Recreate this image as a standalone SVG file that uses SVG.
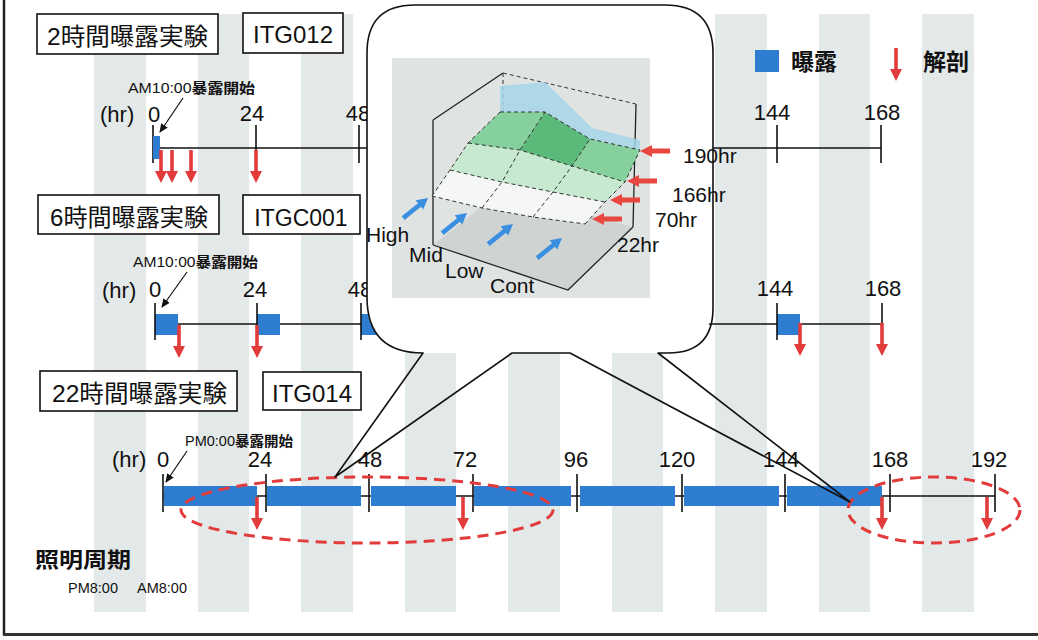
<svg xmlns="http://www.w3.org/2000/svg" width="1038" height="640" viewBox="0 0 1038 640">
<defs>
<style>
.t{font-family:"Liberation Sans","Noto Sans CJK JP",sans-serif;fill:#111}
.cj{font-family:"Liberation Sans","Noto Sans CJK JP",sans-serif;fill:#111}
.n{font-size:22px;text-anchor:middle}
.box{fill:#fff;stroke:#111;stroke-width:1.6}
.ln{stroke:#111;stroke-width:1.6;fill:none}
.bar{fill:#2f7dd1}
.stripe{fill:#e3e8e8}
.ell{fill:none;stroke:#e23b3b;stroke-width:3;stroke-dasharray:11 7}
.grid{stroke:#333;stroke-width:1;stroke-dasharray:4 3;fill:none}
.ax{stroke:#222;stroke-width:1.3;fill:none}
</style>
<path id="dn" d="M-1.8,0 H1.8 V21 H6 L0,33 L-6,21 H-1.8 Z" fill="#e23b3b"/>
<path id="la" d="M0,0 L12,-6 V-2.5 H30 V2.5 H12 V6 Z" fill="#e8473f"/>
<path id="ba" d="M0,0 L-11,-6 V-2.3 H-32 V2.3 H-11 V6 Z" fill="#3a8fe0"/>
<marker id="ah" markerWidth="9" markerHeight="8" refX="8" refY="4" orient="auto" markerUnits="userSpaceOnUse"><path d="M0,0 L9,4 L0,8 Z" fill="#111"/></marker>
</defs>

<g id="background">
<rect x="0" y="0" width="1038" height="640" fill="#fff"/>
<rect class="stripe" x="94" y="14" width="52" height="598"/>
<rect class="stripe" x="198" y="14" width="51" height="598"/>
<rect class="stripe" x="301" y="14" width="52" height="598"/>
<rect class="stripe" x="405" y="14" width="51" height="598"/>
<rect class="stripe" x="508" y="14" width="52" height="598"/>
<rect class="stripe" x="612" y="14" width="51" height="598"/>
<rect class="stripe" x="715" y="14" width="52" height="598"/>
<rect class="stripe" x="819" y="14" width="51" height="598"/>
<rect class="stripe" x="922" y="14" width="52" height="598"/>
<line x1="4" y1="0" x2="4" y2="635" stroke="#222" stroke-width="2.5"/>
<line x1="3" y1="634.5" x2="1038" y2="634.5" stroke="#333" stroke-width="3"/>
</g>

<g id="legend">
<rect class="bar" x="755" y="50" width="24" height="22"/>
<text class="cj" x="791" y="70" font-size="23" font-weight="bold">曝露</text>
<use href="#dn" x="896" y="48"/>
<text class="cj" x="923" y="70" font-size="23" font-weight="bold">解剖</text>
</g>

<g id="row-2h">
<rect class="box" x="37" y="14" width="181" height="40"/>
<text class="cj" x="47" y="45" font-size="24" textLength="161" lengthAdjust="spacingAndGlyphs">2時間曝露実験</text>
<rect class="box" x="243" y="13" width="100" height="40"/>
<text class="t" x="293" y="43" font-size="24" text-anchor="middle">ITG012</text>
<line class="ln" x1="153" y1="148" x2="881" y2="148"/>
<path class="ln" d="M153,125V163M256,125V163M359,125V163M463,125V163M567,125V163M671,125V163M777,125V163M881,125V163"/>
<rect class="bar" x="153" y="136" width="7" height="23"/>
<use href="#dn" x="161" y="150"/><use href="#dn" x="172" y="150"/><use href="#dn" x="191" y="150"/><use href="#dn" x="256" y="150"/>
<text class="t" x="100" y="122" font-size="22">(hr)</text>
<text class="t n" x="154" y="122">0</text>
<text class="t n" x="252" y="121">24</text>
<text class="t n" x="358" y="121">48</text>
<text class="t n" x="772" y="120">144</text>
<text class="t n" x="882" y="120">168</text>
<text class="cj" x="128" y="93" font-size="14" textLength="127" lengthAdjust="spacingAndGlyphs">AM10:00<tspan font-weight="bold">暴露開始</tspan></text>
<line x1="183" y1="98" x2="160" y2="132" stroke="#111" stroke-width="1.2" marker-end="url(#ah)"/>
</g>

<g id="row-6h">
<rect class="box" x="38" y="195" width="181" height="39"/>
<text class="cj" x="50" y="226" font-size="24" textLength="158" lengthAdjust="spacingAndGlyphs">6時間曝露実験</text>
<rect class="box" x="243" y="195" width="117" height="39"/>
<text class="t" x="301" y="226" font-size="23" text-anchor="middle">ITGC001</text>
<line class="ln" x1="155" y1="324" x2="882" y2="324"/>
<rect class="bar" x="155" y="314" width="23" height="21"/>
<rect class="bar" x="257" y="314" width="23" height="21"/>
<rect class="bar" x="361" y="314" width="23" height="21"/>
<rect class="bar" x="465" y="314" width="23" height="21"/>
<rect class="bar" x="569" y="314" width="23" height="21"/>
<rect class="bar" x="673" y="314" width="23" height="21"/>
<rect class="bar" x="777" y="314" width="23" height="21"/>
<path class="ln" d="M155,303V340M257,303V340M361,303V340M465,303V340M569,303V340M673,303V340M777,303V340M882,303V340"/>
<use href="#dn" x="179" y="325"/><use href="#dn" x="257" y="325"/><use href="#dn" x="800" y="323"/><use href="#dn" x="882" y="323"/>
<text class="t" x="102" y="298" font-size="22">(hr)</text>
<text class="t n" x="155" y="297">0</text>
<text class="t n" x="255" y="297">24</text>
<text class="t n" x="360" y="297">48</text>
<text class="t n" x="775" y="296">144</text>
<text class="t n" x="883" y="296">168</text>
<text class="cj" x="133" y="267" font-size="14" textLength="125" lengthAdjust="spacingAndGlyphs">AM10:00<tspan font-weight="bold">暴露開始</tspan></text>
<line x1="187" y1="272" x2="162" y2="307" stroke="#111" stroke-width="1.2" marker-end="url(#ah)"/>
</g>

<g id="row-22h">
<rect class="box" x="40" y="371" width="197" height="40"/>
<text class="cj" x="52" y="402" font-size="24" textLength="175" lengthAdjust="spacingAndGlyphs">22時間曝露実験</text>
<rect class="box" x="263" y="372" width="98" height="38"/>
<text class="t" x="312" y="402" font-size="24" text-anchor="middle">ITG014</text>
<line class="ln" x1="163" y1="496" x2="995" y2="496"/>
<rect class="bar" x="164" y="486" width="93" height="20"/>
<rect class="bar" x="267" y="486" width="94" height="20"/>
<rect class="bar" x="371" y="486" width="85" height="20"/>
<rect class="bar" x="474" y="486" width="97" height="20"/>
<rect class="bar" x="580" y="486" width="95" height="20"/>
<rect class="bar" x="684" y="486" width="95" height="20"/>
<rect class="bar" x="787" y="486" width="95" height="20"/>
<path class="ln" d="M163,474V512M266,474V512M369,474V512M473,474V512M577,474V512M682,474V512M785,474V512M890,474V512M995,474V512"/>
<use href="#dn" x="257" y="497"/><use href="#dn" x="463" y="497"/><use href="#dn" x="882" y="497"/><use href="#dn" x="987" y="497"/>
<text class="t" x="112" y="467" font-size="22">(hr)</text>
<text class="t n" x="163" y="467">0</text>
<text class="t n" x="260" y="467">24</text>
<text class="t n" x="370" y="467">48</text>
<text class="t n" x="465" y="467">72</text>
<text class="t n" x="576" y="467">96</text>
<text class="t n" x="677" y="467">120</text>
<text class="t n" x="781" y="467">144</text>
<text class="t n" x="890" y="467">168</text>
<text class="t n" x="989" y="467">192</text>
<text class="cj" x="185" y="446" font-size="14" textLength="108" lengthAdjust="spacingAndGlyphs">PM0:00<tspan font-weight="bold">暴露開始</tspan></text>
<line x1="187" y1="451" x2="166" y2="482" stroke="#111" stroke-width="1.2" marker-end="url(#ah)"/>
<ellipse class="ell" cx="367" cy="510" rx="186" ry="33"/>
<ellipse class="ell" cx="934" cy="510" rx="86" ry="33"/>
</g>

<g id="lighting">
<text class="cj" x="35" y="567" font-size="21" font-weight="bold" textLength="96" lengthAdjust="spacingAndGlyphs">照明周期</text>
<text class="t" x="68" y="593" font-size="15" textLength="50" lengthAdjust="spacingAndGlyphs">PM8:00</text>
<text class="t" x="137" y="593" font-size="15" textLength="50" lengthAdjust="spacingAndGlyphs">AM8:00</text>
</g>

<g id="callout">
<rect x="367" y="5" width="346" height="348" rx="48" fill="#fff"/>
<g id="chart">
<rect x="392" y="58" width="258" height="240" fill="#dfe4e3"/>
<polygon points="433,245 568,290 633,227 503,190" fill="#cfd4d3"/>
<path class="ax" d="M433,120V245M433,120L503,73M636,104L633,227M433,245L568,290L633,227"/>
<path class="grid" d="M503,73L636,104M503,73V112"/>
<polygon points="432,196 482,208 533,217 585,224 605,202 553,192 502,182 450,170" fill="#f5f7f6"/>
<polygon points="450,170 502,182 553,192 605,202 625,182 572,166 520,150 468,143" fill="#c6e9cf"/>
<polygon points="468,143 520,150 572,166 625,182 640,150 590,139 545,112 500,112" fill="#86d09d"/>
<polygon points="520,150 572,166 590,139 545,112" fill="#5bb979"/>
<polygon points="500,112 500,86 545,82 592,128 640,140 640,150 590,139 545,112" fill="#a6d5e9" opacity="0.85"/>
<path class="grid" d="M432,196L482,208L533,217L585,224M450,170L502,182L553,192L605,202M468,143L520,150L572,166L625,182M500,112L545,112L590,139L640,150M432,196L450,170L468,143L500,112M482,208L502,182L520,150L545,112M533,217L553,192L572,166L590,139M585,224L605,202L625,182L640,150"/>
<use href="#la" x="640" y="151"/>
<use href="#la" x="627" y="181"/>
<use href="#la" x="610" y="200"/>
<use href="#la" x="592" y="219"/>
<use href="#ba" transform="translate(428,198) rotate(-39)"/>
<use href="#ba" transform="translate(467,213) rotate(-39)"/>
<use href="#ba" transform="translate(513,224) rotate(-39)"/>
<use href="#ba" transform="translate(562,238) rotate(-39)"/>
</g>
<text class="t" x="366" y="242" font-size="21">High</text>
<text class="t" x="409" y="262" font-size="21">Mid</text>
<text class="t" x="445" y="278" font-size="21">Low</text>
<text class="t" x="490" y="293" font-size="21">Cont</text>
<text class="t" x="617" y="252" font-size="21">22hr</text>
<text class="t" x="655" y="227" font-size="21">70hr</text>
<text class="t" x="672" y="202" font-size="21">166hr</text>
<text class="t" x="683" y="163" font-size="21">190hr</text>
</g>

<g id="connectors">
<path d="M423,353 Q367,353 367,297 V53 Q367,5 415,5 H665 Q713,5 713,53 V308 Q713,353 668,353 H658 L850,502 L570,353 H512 L335,477 Z" fill="none" stroke="#111" stroke-width="1.6" stroke-linejoin="round"/>
</g>
</svg>
